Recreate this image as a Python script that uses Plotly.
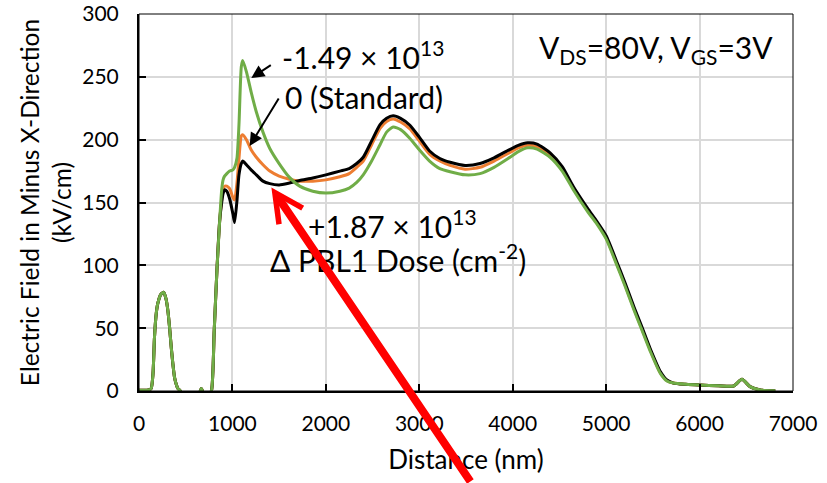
import plotly.graph_objects as go

# ---------------- data ----------------
distance_nm = [0, 100, 130, 150, 166, 185, 202, 235, 266, 290, 309, 328, 345, 362, 380, 400, 416, 440,
               480, 560, 640, 667, 695, 740, 775, 805, 834, 863,
               885, 900, 916, 940, 970, 1005, 1023, 1048, 1070, 1095, 1110, 1150, 1200, 1256, 1327,
               1400, 1500, 1610, 1720, 1860, 2000, 2150, 2250, 2330, 2400, 2490, 2580, 2650, 2720,
               2800, 2900, 3000, 3110, 3220, 3330, 3490, 3650, 3800, 3950, 4060, 4160, 4260, 4400,
               4530, 4650, 4800, 4900, 5000, 5110, 5200, 5300, 5380, 5470, 5580, 5650, 5720, 5850,
               6000, 6200, 6365, 6454, 6540, 6650, 6810]

left_common = [0.5, 0.8, 2, 14, 43, 62, 70, 77, 78.5, 73, 64, 50, 35, 22, 11, 5, 2, 0.3,
               -4, -6, -3, 2, -3, -4, 0, 48, 96, 135]
tail_common = [6.3, 5.3, 4.7, 4.2, 4.0, 9.3, 3.5, 0.8, 0.2]

field_minus149 = left_common + [
    160, 168, 171, 173, 175, 176, 178, 185, 212, 258, 263, 254, 238, 222, 206,
    193, 181, 170, 163, 159, 157.5, 159, 161.5, 166, 172, 183, 196, 206, 210,
    208, 201, 192, 183, 177, 174.5, 172, 173, 178, 185, 190.5, 193.5, 192.5, 186,
    175, 160, 143, 133, 121, 101, 84, 64, 49, 32, 14, 8] + tail_common

field_standard = left_common + [
    152, 160, 163, 163, 161, 154, 152, 165, 185, 203, 204, 200, 192, 186, 180,
    175, 171, 168.5, 167, 167, 168, 170.5, 173, 178, 183, 196, 209, 214.5, 216.5,
    214, 208.5, 199, 188.5, 183, 179.5, 176.5, 178, 183, 189, 193.5, 195.5, 194.5, 188,
    177, 161.5, 144, 134, 122, 102, 85, 65, 50, 33, 14.5, 8.3] + tail_common

field_plus187 = left_common + [
    150, 157, 160, 159, 153, 141, 134, 151, 172, 181, 183, 180, 176, 172, 167,
    165, 164, 165.5, 167.5, 169.5, 172, 175, 177, 181, 186, 199, 212, 217, 219,
    217, 211.5, 202, 191, 185, 182, 179.5, 181, 185.5, 191.5, 195.5, 197.5, 196.5, 189.5,
    178.5, 162.5, 145.5, 135, 123.5, 103.5, 86.5, 66.5, 51.5, 34, 15.5, 8.8] + tail_common

series_names = ["0 (Standard)", "+1.87 × 10^13", "-1.49 × 10^13"]
series_values = [field_standard, field_plus187, field_minus149]
series_colors = ["#ED7D31", "#000000", "#70AD47"]

x_ticks = [0, 1000, 2000, 3000, 4000, 5000, 6000, 7000]
y_ticks = [0, 50, 100, 150, 200, 250, 300]

for v in series_values:
    assert len(v) == len(distance_nm), (len(v), len(distance_nm))

FONT = "Lato, 'Open Sans', sans-serif"

fig = go.Figure()
for name, vals, col in zip(series_names, series_values, series_colors):
    fig.add_trace(go.Scatter(x=distance_nm, y=vals, mode="lines", name=name,
                             line=dict(color=col, width=3, shape="spline", smoothing=0.6),
                             cliponaxis=True))

fig.update_layout(
    width=827, height=483,
    margin=dict(l=139, r=34, t=14, b=92, autoexpand=False),
    paper_bgcolor="white", plot_bgcolor="white",
    showlegend=False,
    font=dict(family=FONT, color="black"),
)
fig.update_xaxes(
    range=[0, 7000], tickvals=x_ticks, ticktext=[str(t) for t in x_ticks],
    showgrid=True, gridcolor="#d9d9d9", gridwidth=1.5,
    showline=True, linecolor="black", linewidth=2,
    ticks="inside", ticklen=7, tickcolor="black", tickwidth=1.5,
    tickfont=dict(size=21, family=FONT), ticklabelstandoff=13,
    ticklabeloverflow="allow", automargin=False,
    title=dict(text="Distance (nm)", font=dict(size=26, family=FONT), standoff=17),
    zeroline=False,
)
fig.update_yaxes(
    range=[0, 300], tickvals=y_ticks, ticktext=[str(t) for t in y_ticks],
    showgrid=True, gridcolor="#d9d9d9", gridwidth=1.5,
    showline=True, linecolor="black", linewidth=2,
    ticks="inside", ticklen=7, tickcolor="black", tickwidth=1.5,
    tickfont=dict(size=21, family=FONT), ticklabelstandoff=14,
    ticklabeloverflow="allow", automargin=False,
    title=dict(text="Electric Field in Minus X-Direction<br>(kV/cm)", font=dict(size=24.5, family=FONT), standoff=4),
    zeroline=False,
)
# thin frame on top/right
fig.add_shape(type="rect", xref="paper", yref="paper", x0=0, x1=1, y0=0, y1=1,
              line=dict(color="black", width=1), layer="above")

ann_font = dict(size=30, family=FONT, color="black")
# text labels
fig.add_annotation(x=1506, y=267, text="-1.49 × 10<sup>13</sup>", showarrow=False,
                   xanchor="left", yanchor="middle", font=ann_font)
fig.add_annotation(x=1545, y=234, text="0 (Standard)", showarrow=False,
                   xanchor="left", yanchor="middle", font=ann_font)
fig.add_annotation(x=1792, y=133, text="+1.87 × 10<sup>13</sup>", showarrow=False,
                   xanchor="left", yanchor="middle", font=ann_font)
fig.add_annotation(x=1381, y=106, text="Δ PBL1 Dose (cm<sup>-2</sup>)", showarrow=False,
                   xanchor="left", yanchor="middle", font=ann_font)
fig.add_annotation(x=4260, y=272, text="V<sub>DS</sub>=80V, V<sub>GS</sub>=3V", showarrow=False,
                   xanchor="left", yanchor="middle", font=ann_font)
# black arrows
fig.add_annotation(x=1202, y=249, text="", showarrow=True, ax=21, ay=-14,
                   arrowhead=2, arrowsize=1.3, arrowwidth=2, arrowcolor="black")
fig.add_annotation(x=1184, y=195, text="", showarrow=True, ax=30, ay=-49,
                   arrowhead=2, arrowsize=1.3, arrowwidth=2, arrowcolor="black")
# red arrow
fig.add_annotation(x=1417, y=162, text="", showarrow=True, ax=200, ay=305,
                   arrowhead=5, arrowsize=0.7, arrowwidth=8, arrowcolor="#FF0000")

fig.write_html("out.html")
